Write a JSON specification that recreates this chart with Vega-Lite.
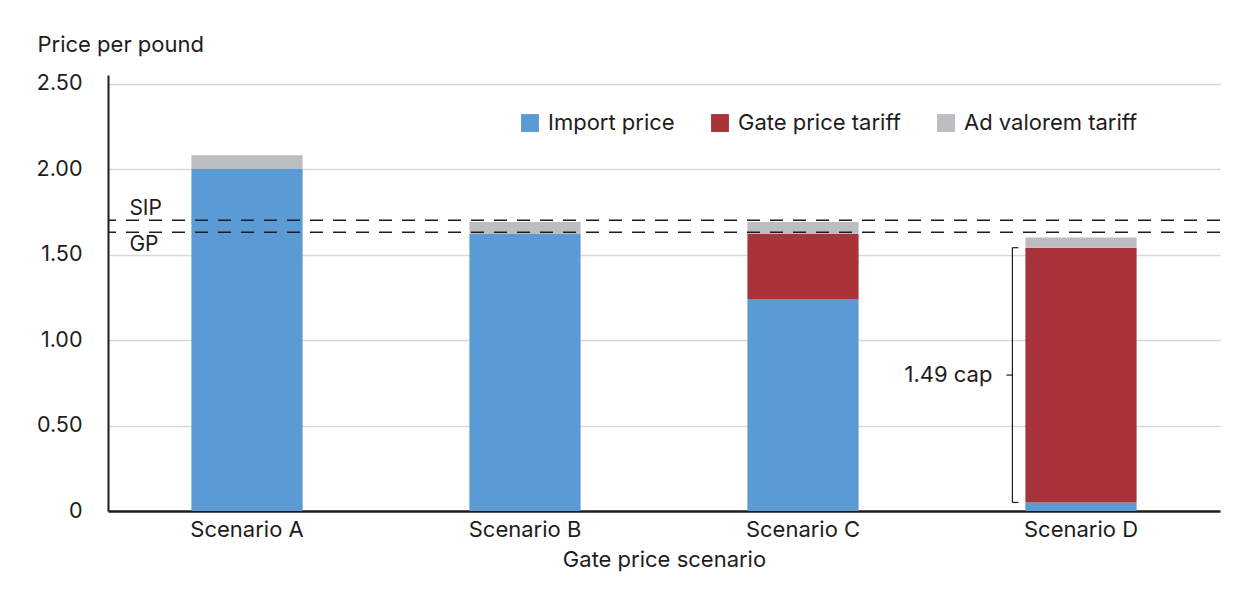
{
  "$schema": "https://vega.github.io/schema/vega-lite/v6.json",
  "autosize": {"type": "none"},
  "width": 1112,
  "height": 436,
  "padding": {"left": 108, "top": 75, "right": 30, "bottom": 79},
  "background": "white",
  "config": {
    "font": "Inter",
    "view": {"stroke": null},
    "text": {"font": "Inter", "color": "#1f1c1d"}
  },
  "datasets": {
    "bars": [
      {"scenario": "Scenario A", "component": "Import price", "ord": 1, "value": 2.00},
      {"scenario": "Scenario A", "component": "Gate price tariff", "ord": 2, "value": 0.0},
      {"scenario": "Scenario A", "component": "Ad valorem tariff", "ord": 3, "value": 0.08},
      {"scenario": "Scenario B", "component": "Import price", "ord": 1, "value": 1.62},
      {"scenario": "Scenario B", "component": "Gate price tariff", "ord": 2, "value": 0.0},
      {"scenario": "Scenario B", "component": "Ad valorem tariff", "ord": 3, "value": 0.07},
      {"scenario": "Scenario C", "component": "Import price", "ord": 1, "value": 1.24},
      {"scenario": "Scenario C", "component": "Gate price tariff", "ord": 2, "value": 0.38},
      {"scenario": "Scenario C", "component": "Ad valorem tariff", "ord": 3, "value": 0.07},
      {"scenario": "Scenario D", "component": "Import price", "ord": 1, "value": 0.05},
      {"scenario": "Scenario D", "component": "Gate price tariff", "ord": 2, "value": 1.49},
      {"scenario": "Scenario D", "component": "Ad valorem tariff", "ord": 3, "value": 0.06}
    ],
    "refs": [
      {"name": "SIP", "value": 1.70},
      {"name": "GP", "value": 1.63}
    ],
    "cap": [
      {"scenario": "Scenario D", "low": 0.05, "high": 1.54, "mid": 0.795, "label": "1.49 cap"}
    ]
  },
  "layer": [
    {
      "data": {"name": "bars"},
      "mark": {"type": "bar"},
      "encoding": {
        "x": {
          "field": "scenario", "type": "nominal", "sort": null,
          "scale": {"paddingInner": 0.6, "paddingOuter": 0.3},
          "axis": {
            "title": "Gate price scenario", "labelAngle": 0,
            "labelFontSize": 22, "labelColor": "#1f1c1d", "labelPadding": 8,
            "titleFontSize": 22, "titleFontWeight": "normal", "titleColor": "#1f1c1d", "titlePadding": 9,
            "ticks": false, "domainColor": "#1f1c1d", "domainWidth": 2.5
          }
        },
        "y": {
          "field": "value", "type": "quantitative", "stack": "zero",
          "scale": {"domain": [0, 2.55], "nice": false},
          "axis": {
            "values": [0, 0.5, 1, 1.5, 2, 2.5],
            "labelExpr": "datum.value == 0 ? '0' : format(datum.value, '.2f')",
            "labelFontSize": 21.5, "labelColor": "#1f1c1d", "labelPadding": 26,
            "ticks": false, "domainColor": "#1f1c1d", "domainWidth": 2,
            "gridColor": "#d9d9d9", "gridWidth": 1.5,
            "title": "Price per pound", "titleAngle": 0, "titleAlign": "left",
            "titleBaseline": "middle", "titleX": -71, "titleY": -31,
            "titleFontSize": 22, "titleFontWeight": "normal", "titleColor": "#1f1c1d"
          }
        },
        "color": {
          "field": "component", "type": "nominal",
          "scale": {
            "domain": ["Import price", "Gate price tariff", "Ad valorem tariff"],
            "range": ["#5B9BD5", "#A8343A", "#BCBDC0"]
          },
          "legend": {
            "title": null, "orient": "none", "direction": "horizontal",
            "legendX": 411, "legendY": 37,
            "symbolType": "square", "symbolSize": 320, "symbolStrokeWidth": 0,
            "labelFontSize": 22, "labelColor": "#1f1c1d", "labelOffset": 7,
            "labelLimit": 400, "columnPadding": 34
          }
        },
        "order": {"field": "ord", "type": "quantitative"}
      }
    },
    {
      "data": {"name": "refs"},
      "mark": {"type": "rule", "color": "#1f1c1d", "strokeWidth": 1.5, "strokeDash": [13, 10]},
      "encoding": {"y": {"field": "value", "type": "quantitative"}}
    },
    {
      "data": {"values": [{"name": "SIP", "value": 1.70}]},
      "mark": {"type": "text", "align": "left", "baseline": "alphabetic", "dx": -62, "dy": -5, "fontSize": 21},
      "encoding": {
        "x": {"datum": "Scenario A", "type": "nominal", "bandPosition": 0},
        "y": {"field": "value", "type": "quantitative"},
        "text": {"field": "name"}
      }
    },
    {
      "data": {"values": [{"name": "GP", "value": 1.63}]},
      "mark": {"type": "text", "align": "left", "baseline": "top", "dx": -62, "dy": 2, "fontSize": 21},
      "encoding": {
        "x": {"datum": "Scenario A", "type": "nominal", "bandPosition": 0},
        "y": {"field": "value", "type": "quantitative"},
        "text": {"field": "name"}
      }
    },
    {
      "data": {"name": "cap"},
      "mark": {"type": "rule", "color": "#1f1c1d", "strokeWidth": 1.2, "xOffset": -13},
      "encoding": {
        "x": {"field": "scenario", "type": "nominal", "bandPosition": 0},
        "y": {"field": "low", "type": "quantitative"},
        "y2": {"field": "high"}
      }
    },
    {
      "data": {"name": "cap"},
      "mark": {"type": "rule", "color": "#1f1c1d", "strokeWidth": 1.2, "xOffset": -13, "x2Offset": -7},
      "encoding": {
        "x": {"field": "scenario", "type": "nominal", "bandPosition": 0},
        "x2": {"field": "scenario", "bandPosition": 0},
        "y": {"field": "high", "type": "quantitative"}
      }
    },
    {
      "data": {"name": "cap"},
      "mark": {"type": "rule", "color": "#1f1c1d", "strokeWidth": 1.2, "xOffset": -13, "x2Offset": -7},
      "encoding": {
        "x": {"field": "scenario", "type": "nominal", "bandPosition": 0},
        "x2": {"field": "scenario", "bandPosition": 0},
        "y": {"field": "low", "type": "quantitative"}
      }
    },
    {
      "data": {"name": "cap"},
      "mark": {"type": "rule", "color": "#1f1c1d", "strokeWidth": 1.2, "xOffset": -19, "x2Offset": -13},
      "encoding": {
        "x": {"field": "scenario", "type": "nominal", "bandPosition": 0},
        "x2": {"field": "scenario", "bandPosition": 0},
        "y": {"field": "mid", "type": "quantitative"}
      }
    },
    {
      "data": {"name": "cap"},
      "mark": {"type": "text", "align": "right", "baseline": "middle", "dx": -33, "fontSize": 22},
      "encoding": {
        "x": {"field": "scenario", "type": "nominal", "bandPosition": 0},
        "y": {"field": "mid", "type": "quantitative"},
        "text": {"field": "label"}
      }
    }
  ]
}
